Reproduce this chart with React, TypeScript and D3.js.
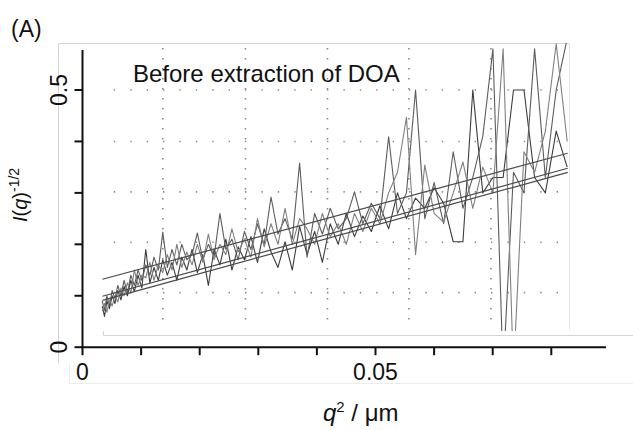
import React from 'react';
import * as d3 from 'd3';

// q^2 values (shared by the three measured series)
const q2 = [
  0.003364, 0.003755, 0.004168, 0.004602, 0.005058, 0.005535, 0.006034, 0.006555, 0.007096, 0.00766,
  0.008245, 0.008851, 0.009479, 0.010128, 0.010799, 0.011492, 0.012206, 0.012941, 0.013698, 0.014477,
  0.015277, 0.016099, 0.016942, 0.017806, 0.018692, 0.0196, 0.020529, 0.02148, 0.022452, 0.023446,
  0.024461, 0.025498, 0.026556, 0.027636, 0.028737, 0.02986, 0.031004, 0.03217, 0.033357, 0.034566,
  0.035797, 0.037049, 0.038322, 0.039617, 0.040933, 0.042271, 0.043631, 0.045012, 0.046414, 0.047838,
  0.049284, 0.050751, 0.05224, 0.05375, 0.055281, 0.056835, 0.058409, 0.060005, 0.061623, 0.063262,
  0.064923, 0.066605, 0.068309, 0.070034, 0.071781, 0.073549, 0.075339, 0.077151, 0.078983, 0.080838,
  0.082714,
];

const seriesA = [
  0.08, 0.06, 0.09, 0.075, 0.1, 0.085, 0.11, 0.092, 0.118, 0.1,
  0.13, 0.108, 0.14, 0.115, 0.19, 0.125, 0.155, 0.13, 0.17, 0.14,
  0.165, 0.13, 0.175, 0.15, 0.19, 0.145, 0.18, 0.12, 0.19, 0.16,
  0.21, 0.15, 0.195, 0.17, 0.215, 0.165, 0.23, 0.185, 0.155, 0.205,
  0.15, 0.235, 0.18, 0.225, 0.165, 0.24, 0.2, 0.26, 0.215, 0.255,
  0.225, 0.275, 0.23, 0.3, 0.25, 0.29, 0.27, 0.31, 0.28, 0.205,
  0.205, 0.5, 0.3, 0.33, 0.33, 0.5, 0.5, 0.33, 0.3, 0.42,
  0.35,
];

const seriesB = [
  0.09, 0.072, 0.1, 0.08, 0.11, 0.095, 0.12, 0.1, 0.13, 0.105,
  0.14, 0.12, 0.15, 0.13, 0.16, 0.14, 0.175, 0.15, 0.224, 0.155,
  0.19, 0.16, 0.2, 0.17, 0.18, 0.222, 0.17, 0.2, 0.175, 0.26,
  0.19, 0.21, 0.17, 0.225, 0.19, 0.24, 0.2, 0.292, 0.22, 0.25,
  0.21, 0.358, 0.175, 0.26, 0.22, 0.27, 0.23, 0.25, 0.302, 0.24,
  0.28, 0.25, 0.409, 0.26, 0.3, 0.5, 0.25, 0.32, 0.24, 0.38,
  0.27, 0.33, 0.41, 0.58, -0.05, 0.34, 0.3, 0.58, 0.33, 0.5,
  0.6,
];

const seriesC = [
  0.07, 0.085, 0.068, 0.092, 0.08, 0.1, 0.088, 0.115, 0.1, 0.125,
  0.105, 0.15, 0.12, 0.14, 0.135, 0.165, 0.13, 0.16, 0.145, 0.18,
  0.15, 0.2, 0.155, 0.185, 0.16, 0.2, 0.165, 0.22, 0.17, 0.2,
  0.18, 0.23, 0.185, 0.21, 0.175, 0.25, 0.195, 0.24, 0.2, 0.27,
  0.2, 0.25, 0.23, 0.2, 0.26, 0.215, 0.24, 0.2, 0.26, 0.225,
  0.27, 0.24, 0.3, 0.34, 0.447, 0.18, 0.354, 0.26, 0.243, 0.3,
  0.36, 0.27, 0.35, 0.3, 0.58, -0.05, 0.38, 0.34, 0.42, 0.59,
  0.4,
];

const seriesColors = ['#3c3c3c', '#5c5c5c', '#808080'];

// linear fits
const fitSlopes = [3.086, 3.136, 3.136];
const fitIntercepts = [0.1215, 0.0883, 0.0803];
const fitRange = [0.00341, 0.0828];

const xTicks = [0, 0.01, 0.02, 0.03, 0.04, 0.05, 0.06, 0.07, 0.08];
const xTickLabels = [0, 0.05];
const xTickLabelText = ['0', '0.05'];
const yTicks = [0, 0.1, 0.2, 0.3, 0.4, 0.5];
const yTickLabels = [0, 0.5];
const yTickLabelText = ['0', '0.5'];

// inner (pasted) plot grid positions
const innerGridX = [0.0137, 0.0278, 0.0418, 0.0557, 0.0697];
const innerGridY = [0.106, 0.204, 0.302, 0.4, 0.5];

const title = 'Before extraction of DOA';
const panelLabel = '(A)';

const FONT = "'Liberation Sans', Arial, sans-serif";

export default function App() {
  const W = 633;
  const H = 430;
  const x = d3.scaleLinear().domain([0, 0.01]).range([82.5, 141.1]);
  const y = d3.scaleLinear().domain([0, 0.5]).range([347.2, 90]);

  const xEnd = 606;
  const yTop = 50;

  const line = d3
    .line<[number, number]>()
    .x((d) => x(d[0]))
    .y((d) => y(d[1]));

  const series = [seriesA, seriesB, seriesC];

  const clipX0 = 101;
  const clipX1 = 570;
  const clipY0 = 43;
  const clipY1 = 331;

  const hx0 = 113.8;
  const hx1 = 558;

  return (
    <svg
      width={W}
      height={H}
      style={{ position: 'absolute', left: 0, top: 0, background: '#fff' }}
      fontFamily={FONT}
    >
      <defs>
        <clipPath id="inner">
          <rect x={clipX0} y={clipY0} width={clipX1 - clipX0} height={clipY1 - clipY0} />
        </clipPath>
      </defs>
      <rect x={0} y={0} width={W} height={H} fill="#fff" />

      {/* faint borders of the pasted inner plot */}
      <g stroke="#d4d4d4" strokeWidth={1} fill="none">
        <path d={`M58.5,${H - 67}V43.5H569`} />
        <path d={`M569.5,43.5V330`} stroke="#e6e6e6" />
        <path d={`M103.5,331V335.5H633`} />
        <path d={`M69.5,363V383.5H633`} stroke="#ececec" />
      </g>

      {/* inner dotted grid */}
      <g stroke="#8a8a8a" strokeWidth={1.6} fill="none">
        {innerGridY.map((v, i) => (
          <line
            key={'h' + i}
            x1={hx0}
            x2={hx1}
            y1={y(v)}
            y2={y(v)}
            strokeDasharray="1.4 15"
          />
        ))}
        {innerGridX.map((v, i) => (
          <line
            key={'v' + i}
            x1={x(v)}
            x2={x(v)}
            y1={48}
            y2={326}
            strokeDasharray="1.4 8.6"
          />
        ))}
      </g>

      {/* data */}
      <g clipPath="url(#inner)" fill="none" strokeLinejoin="round">
        {series.map((s, k) => (
          <path
            key={'s' + k}
            d={line(q2.map((q, i) => [q, s[i]] as [number, number])) || ''}
            stroke={seriesColors[k]}
            strokeWidth={1.1}
          />
        ))}
        {fitSlopes.map((m, k) => (
          <line
            key={'f' + k}
            x1={x(fitRange[0])}
            x2={x(fitRange[1])}
            y1={y(fitIntercepts[k] + m * fitRange[0])}
            y2={y(fitIntercepts[k] + m * fitRange[1])}
            stroke="#4a4a4a"
            strokeWidth={1.2}
          />
        ))}
      </g>

      {/* axes */}
      <g stroke="#111" strokeWidth={2} fill="none">
        <line x1={x(0)} x2={x(0)} y1={yTop} y2={y(0) + 1} />
        <line x1={x(0) - 1} x2={xEnd} y1={y(0)} y2={y(0)} />
        {yTicks.map((v) => (
          <line key={'yt' + v} x1={x(0) - 8} x2={x(0)} y1={y(v)} y2={y(v)} />
        ))}
        {xTicks.map((v) => (
          <line key={'xt' + v} x1={x(v)} x2={x(v)} y1={y(0)} y2={y(0) + 8} />
        ))}
      </g>

      {/* tick labels */}
      <g fontSize={23} fill="#111">
        {xTickLabels.map((v, i) => (
          <text key={'xl' + i} x={x(v)} y={380} textAnchor="middle">
            {xTickLabelText[i]}
          </text>
        ))}
        {yTickLabels.map((v, i) => (
          <text
            key={'yl' + i}
            transform={`translate(67,${y(v)}) rotate(-90)`}
            textAnchor="middle"
          >
            {yTickLabelText[i]}
          </text>
        ))}
      </g>

      {/* axis titles */}
      <text x={323} y={421} fontSize={24} fill="#111">
        <tspan fontStyle="italic">q</tspan>
        <tspan fontSize={15} dy={-9}>2</tspan>
        <tspan dy={9}>{' / μm'}</tspan>
      </text>
      <text transform="translate(27,222) rotate(-90)" fontSize={20} fill="#111">
        <tspan fontStyle="italic">I</tspan>
        <tspan>(</tspan>
        <tspan fontStyle="italic">q</tspan>
        <tspan>)</tspan>
        <tspan fontSize={14} dy={-8}>-1/2</tspan>
      </text>

      <text x={133} y={82} fontSize={24} fill="#111">
        {title}
      </text>
      <text x={11} y={37} fontSize={23} fill="#111">
        {panelLabel}
      </text>
    </svg>
  );
}
